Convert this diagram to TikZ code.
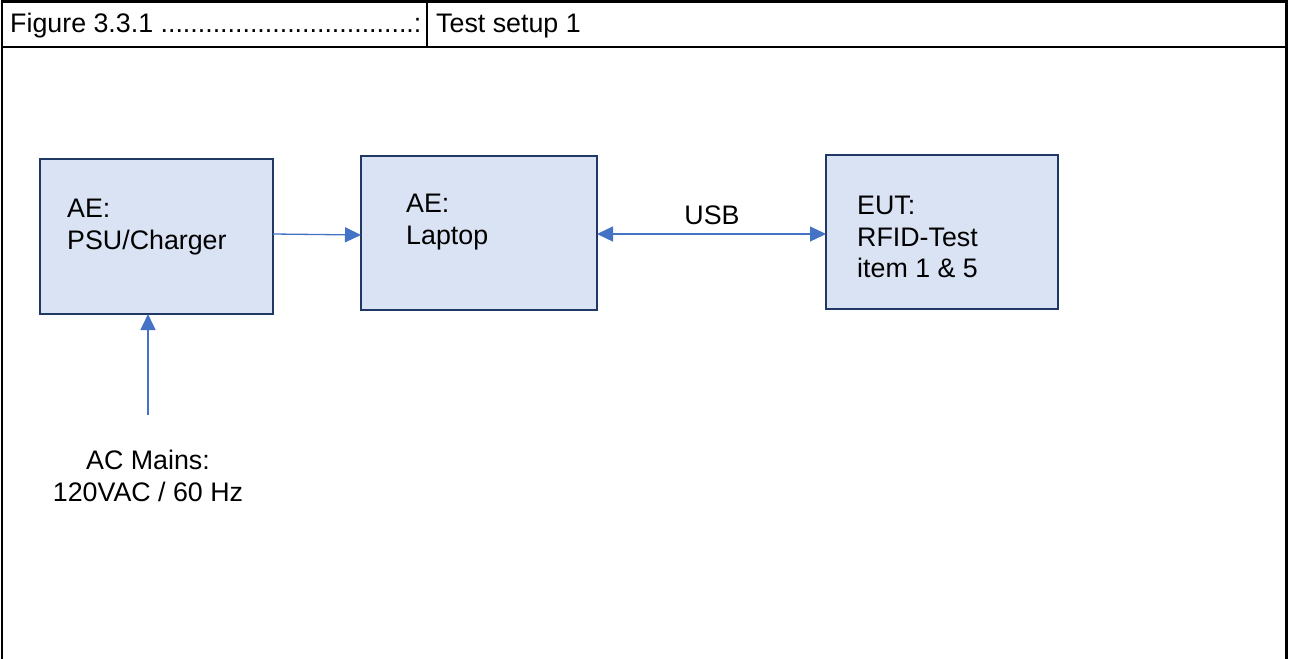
\documentclass[tikz,border=0pt]{standalone}
\usepackage{fontspec}
\setmainfont{Liberation Sans}
\usetikzlibrary{arrows.meta}
\definecolor{boxfill}{HTML}{DAE3F3}
\definecolor{boxline}{HTML}{1F3864}
\definecolor{arrowblue}{HTML}{4472C4}
\begin{document}
\begin{tikzpicture}[x=1pt,y=-1pt,
  every node/.style={font=\fontsize{26.8}{31.5}\selectfont, inner sep=0pt},
  frame/.style={line width=2.4pt, black},
  device/.style={draw=boxline, fill=boxfill, line width=2.8pt},
  label/.style={anchor=west, align=left},
  conn/.style={draw=arrowblue, line width=1.3pt},
  tip/.style={-{Triangle[length=16pt,width=15pt]}}
]
\useasboundingbox (0,0) rectangle (1294,659);
% table frame
\draw[frame] (2,659) -- (2,1.3) -- (1286.5,1.3) -- (1286.5,659);
\draw[frame] (2,47) -- (1286.5,47);
\draw[frame] (427,1.3) -- (427,47);
\node[anchor=west] (fig) at (10,26) {Figure 3.3.1 ..................................:};
\node[anchor=west] (title) at (436,26) {Test setup 1};
% devices
\draw[device] (40,159) rectangle (273,314);
\coordinate (psuN) at (148,314);
\coordinate (psuE) at (273,234);
\draw[device] (361,156) rectangle (597,310);
\coordinate (lapW) at (361,235);
\coordinate (lapE) at (597,234);
\draw[device] (826,155) rectangle (1058,309);
\coordinate (eutW) at (826,234);
\node[label] (psu) at (67,227) {AE:\\PSU/Charger};
\node[label] (lap) at (406,222) {AE:\\Laptop};
\node[label] (eut) at (857,237) {EUT:\\RFID-Test\\item 1 \& 5};
\node (usb) at (712,215) {USB};
\node[align=center] (mains) at (148,476) {AC Mains:\\120VAC / 60 Hz};
\coordinate (mainsTop) at (148,415);
% connectors
\draw[conn, tip] (psuE) -- (lapW);
\draw[conn, {Triangle[length=16pt,width=15pt]}-{Triangle[length=16pt,width=15pt]}] (lapE) -- (eutW);
\draw[conn, tip] (mainsTop) -- (psuN);
\end{tikzpicture}
\end{document}
